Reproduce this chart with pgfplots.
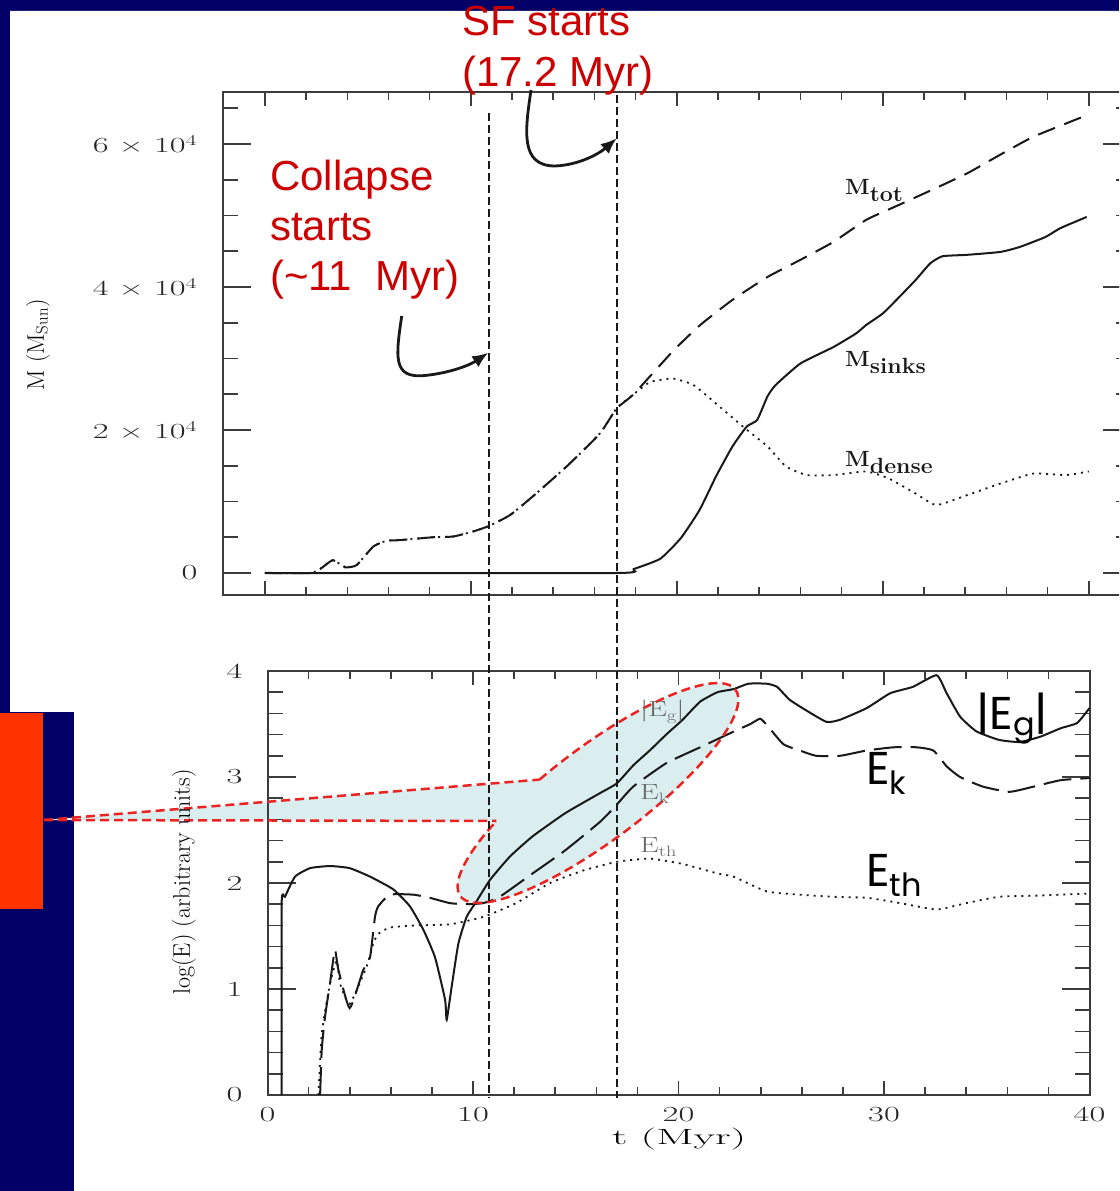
\documentclass[border=0pt]{standalone}
\usepackage{fontspec}
\usepackage{graphicx}
\usepackage{pgfplots}
\usepackage{pgfplotstable}
\pgfplotsset{compat=1.18}
\usetikzlibrary{arrows.meta}

\newfontfamily\arial{Liberation Sans}
\newfontfamily\comic{Poppins}

\definecolor{slidenavy}{RGB}{0,0,102}
\definecolor{notered}{RGB}{204,0,0}
\definecolor{boxred}{RGB}{255,51,0}
\definecolor{calloutfill}{RGB}{218,238,240}
\definecolor{calloutline}{RGB}{235,35,35}
\definecolor{ink}{RGB}{25,25,25}
\definecolor{framegray}{RGB}{60,60,60}

% wide plotter-style lettering
\newcommand{\hw}[1]{\scalebox{1.6}[1]{#1}}
\newcommand{\sci}[1]{\hw{#1\hspace{0.3em}×\hspace{0.3em}10\textsuperscript{4}}}

% ---- mass evolution (t in Myr, M in solar masses)
\pgfplotstableread{
t M
0 0
2.2 0
2.7 600
3.3 1800
3.9 800
4.45 1100
5.26 3700
5.9 4500
6.55 4600
8.17 5000
9.14 5100
10.1 5800
10.9 6600
11.9 8100
13.0 10700
14.65 14900
16.26 19500
17.07 23000
17.9 25000
19.8 31000
21.1 34600
22.7 38200
24.4 41400
26.0 43800
27.6 46300
29.2 49400
30.8 51500
32.4 53600
34.1 55900
35.7 58500
37.3 61000
39.7 63800
40 64300
}\Mtot

\pgfplotstableread{
t M
0 0
17.07 0
17.9 550
19.2 2000
20.2 4900
21.1 8800
21.9 13500
22.7 17700
23.4 20500
23.9 21400
24.4 24700
24.8 26300
26.0 29300
27.6 31600
28.7 33500
29.2 34700
30.0 36300
30.8 38600
31.6 41000
32.3 43300
32.9 44300
34.1 44500
35.7 44900
36.65 45600
37.9 47000
38.6 48200
39.9 49800
}\Msinks

\pgfplotstableread{
t M
0 0
2.2 0
2.7 600
3.3 1800
3.9 800
4.45 1100
5.26 3700
5.9 4500
6.55 4600
8.17 5000
9.14 5100
10.1 5800
10.9 6600
11.9 8100
13.0 10700
14.65 14900
16.26 19500
17.07 23000
17.9 25000
18.7 26700
19.8 27200
20.8 26300
21.9 23700
23.2 20500
24.4 17700
25.3 14900
26.3 13700
27.6 13700
29.2 14200
30.3 13200
31.6 11100
32.6 9500
34.1 10900
35.7 12500
37.3 13900
38.9 13700
40 14200
}\Mdense

% ---- energies (t in Myr, log E)
\pgfplotstableread{
t E
0.69 0
0.69 1.81
0.85 1.87
1.34 2.06
2.07 2.14
3.04 2.16
4.0 2.14
4.99 2.06
6.12 1.94
6.93 1.78
7.58 1.56
8.15 1.30
8.64 0.90
8.72 0.71
8.96 1.02
9.29 1.43
9.69 1.68
10.18 1.83
10.83 2.03
11.8 2.25
12.9 2.44
14.5 2.66
16.2 2.85
17.0 2.94
17.8 3.11
18.6 3.25
19.4 3.40
20.2 3.54
21.05 3.71
21.9 3.80
22.7 3.83
23.4 3.88
24.3 3.88
24.8 3.85
25.4 3.73
26.2 3.63
27.2 3.52
27.86 3.54
29.16 3.65
30.3 3.79
31.4 3.85
32.56 3.96
33.05 3.79
33.7 3.57
34.5 3.43
35.6 3.35
36.6 3.33
37.6 3.38
38.6 3.46
39.4 3.51
40 3.65
}\Eg

\pgfplotstableread{
t E
2.56 0
2.64 0.43
2.8 0.74
3.04 1.05
3.28 1.37
3.45 1.18
4.0 0.82
4.66 1.18
4.99 1.30
5.23 1.68
5.39 1.78
5.96 1.89
7.1 1.89
7.9 1.86
8.88 1.81
9.69 1.80
10.5 1.81
11.3 1.87
12.9 2.09
14.5 2.31
16.2 2.58
17.0 2.74
17.8 2.91
19.4 3.13
21.05 3.28
22.7 3.43
23.5 3.50
23.97 3.55
24.3 3.49
25.1 3.31
25.9 3.25
26.7 3.20
27.86 3.20
29.16 3.25
30.45 3.28
31.6 3.28
32.4 3.25
33.05 3.10
33.7 3.00
34.8 2.91
36.1 2.86
37.3 2.91
38.6 2.97
40 2.99
}\Ek

\pgfplotstableread{
t E
2.48 0
2.64 0.58
3.04 1.05
3.37 1.27
3.53 1.05
4.0 0.86
4.82 1.21
5.15 1.43
5.39 1.52
5.96 1.58
7.26 1.60
8.88 1.61
10.5 1.68
12.1 1.81
13.75 2.00
15.4 2.12
17.0 2.20
18.6 2.23
20.2 2.18
21.9 2.09
22.67 2.06
24.3 1.92
25.9 1.89
27.5 1.87
29.2 1.86
30.8 1.81
32.56 1.75
34.0 1.81
35.6 1.87
37.3 1.88
40 1.90
}\Eth

\pgfplotsset{
  panel/.style={
    scale only axis, anchor=south west,
    axis line style={framegray, line width=2pt},
    tick style={framegray, line width=1.6pt},
    tick align=inside,
    xtick pos=both, ytick pos=both,
    major tick length=28pt, minor tick length=15pt,
    xtick style={/pgfplots/major tick length=14pt, /pgfplots/minor tick length=8pt},
    tick label style={font=\fontsize{21.5}{21.5}\selectfont, inner sep=0pt, text=black!85},
    yticklabel style={xshift=-25pt},
    xticklabel style={yshift=-12pt},
  },
  curve/.style={ink, line width=2pt, smooth, tension=0.3},
}

\begin{document}
\begin{tikzpicture}
\useasboundingbox (0pt,0pt) rectangle (1119pt,1191pt);
\clip (0pt,0pt) rectangle (1119pt,1191pt);

% slide background and callout shading
\begin{scope}[x=1pt,y=1pt]
  \fill[slidenavy] (0,0) rectangle (1119,1191);
  \fill[white] (10,1180) -- (1119,1180) -- (1119,0) -- (74,0) -- (74,479) -- (10,479) -- cycle;
  \fill[boxred] (0,282) rectangle (43,478);
  \fill[calloutfill] (44,371) -- (539.6,411.4) -- (598,398) -- (495.1,368.7) -- (495.1,370) -- cycle;
  \fill[calloutfill, rotate around={36.9:(598,398)}] (598,398) ellipse [x radius=172, y radius=47];
\end{scope}

% upper panel: masses
\begin{axis}[panel,
  at={(222.7pt,596pt)}, width=908.3pt, height=503pt,
  xmin=-2.05, xmax=42.05, ymin=-3077, ymax=67273,
  xtick={0,10,20,30,40}, minor xtick={2,4,...,38},
  xticklabels={},
  ytick={0,20000,40000,60000},
  minor ytick={5000,10000,...,65000},
  yticklabels={\hw{0},\sci{2},\sci{4},\sci{6}},
  scaled y ticks=false,
]
  \addplot[curve, line width=1.8pt, dash pattern=on 2pt off 5pt] table[x=t,y=M] {\Mdense};
  \addplot[curve, dash pattern=on 18pt off 10pt] table[x=t,y=M] {\Mtot};
  \addplot[curve] table[x=t,y=M] {\Msinks};
\end{axis}

% lower panel: energies
\begin{axis}[panel,
  at={(267.5pt,96pt)}, width=822pt, height=424pt,
  xmin=0, xmax=40, ymin=0, ymax=4,
  xtick={0,10,20,30,40}, minor xtick={2,4,...,38},
  xticklabels={\hw{0},\hw{10},\hw{20},\hw{30},\hw{40}},
  ytick={0,1,2,3,4},
  minor ytick={0.2,0.4,...,3.8},
  yticklabels={\hw{0},\hw{1},\hw{2},\hw{3},\hw{4}},
]
  \addplot[curve, line width=1.8pt, dash pattern=on 2pt off 5pt] table[x=t,y=E] {\Eth};
  \addplot[curve, dash pattern=on 28pt off 9pt] table[x=t,y=E] {\Ek};
  \addplot[curve] table[x=t,y=E] {\Eg};
\end{axis}

\begin{scope}[x=1pt,y=1pt]
  % callout outline
  \begin{scope}[calloutline, line width=2.5pt, dash pattern=on 9pt off 5pt]
    \draw (44,371) -- (539.6,411.4);
    \draw (44,371) -- (495.1,370) -- (495.1,368.7);
    \draw[rotate around={36.9:(598,398)}] (598,398) ++(103:172 and 47)
      arc[start angle=103, end angle=-234.5, x radius=172, y radius=47];
  \end{scope}

  % event markers
  \draw[ink, line width=2pt, dash pattern=on 8pt off 4pt] (489.3,1078) -- (489.3,93);
  \draw[ink, line width=2pt, dash pattern=on 8pt off 4pt] (616.7,1096) -- (616.7,93);

  % arrows
  \draw[ink, line width=2.8pt, -{Latex[length=16pt,width=13pt]}]
    (401.7,875) .. controls (396,835) and (392,812) .. (425,815.5)
    .. controls (450,818) and (470,826) .. (488.3,838.3);
  \draw[ink, line width=2.8pt, -{Latex[length=16pt,width=13pt]}]
    (531,1101) .. controls (525,1060) and (520,1025) .. (555,1025)
    .. controls (580,1026) and (600,1038) .. (616.7,1052.7);

  % annotations
  \begin{scope}[every node/.style={anchor=base west, inner sep=0pt, text=notered,
      font=\arial\fontsize{42}{42}\selectfont}]
    \node at (462,1155) {SF starts};
    \node at (462,1104) {(17.2 Myr)};
    \node at (270,1000) {Collapse};
    \node at (270,950) {starts};
    \node at (270,900) {(\textasciitilde 11\ \ Myr)};
  \end{scope}

  % curve labels, upper panel
  \begin{scope}[every node/.style={anchor=base west, inner sep=0pt, text=ink,
      font=\fontsize{22}{22}\selectfont\bfseries}]
    \node at (845,996) {\scalebox{1.05}[1]{M\raisebox{-7pt}{tot}}};
    \node at (845,824) {\scalebox{1.05}[1]{M\raisebox{-7pt}{sinks}}};
    \node at (845,724) {\scalebox{1.05}[1]{M\raisebox{-7pt}{dense}}};
  \end{scope}

  % curve labels, lower panel
  \begin{scope}[every node/.style={anchor=base west, inner sep=0pt, text=black!60,
      font=\fontsize{22}{22}\selectfont}]
    \node at (640,474) {\scalebox{1.35}[1]{|E\raisebox{-4pt}{\fontsize{15}{15}\selectfont g}|}};
    \node at (640,391) {\scalebox{1.35}[1]{E\raisebox{-4pt}{\fontsize{15}{15}\selectfont k}}};
    \node at (640,338) {\scalebox{1.35}[1]{E\raisebox{-4pt}{\fontsize{15}{15}\selectfont th}}};
  \end{scope}
  \begin{scope}[every node/.style={anchor=base west, inner sep=0pt, text=black,
      font=\comic\fontsize{46}{46}\selectfont}]
    \node at (976,461) {|E\raisebox{-6pt}{\fontsize{32}{32}\selectfont g}|};
    \node at (866,406) {E\raisebox{-10pt}{\fontsize{32}{32}\selectfont k}};
    \node at (866,304) {E\raisebox{-10pt}{\fontsize{32}{32}\selectfont th}};
  \end{scope}

  % axis titles
  \node[rotate=90, inner sep=0pt, font=\fontsize{24}{24}\selectfont] at (38,846) {M (M\textsubscript{Sun})};
  \node[rotate=90, inner sep=0pt, font=\fontsize{24}{24}\selectfont] at (184,309) {log(E) (arbitrary units)};
  \node[inner sep=0pt, font=\fontsize{22}{22}\selectfont] at (679,52) {\scalebox{2}[1]{t (Myr)}};
\end{scope}
\end{tikzpicture}
\end{document}
